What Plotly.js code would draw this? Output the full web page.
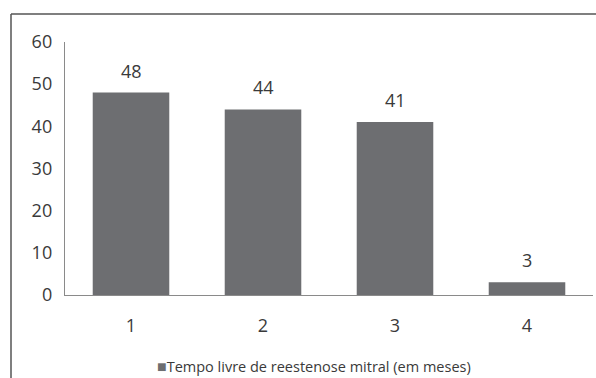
<!DOCTYPE html>
<html><head><meta charset="utf-8">
<script src="https://cdn.plot.ly/plotly-3.0.1.min.js"></script>
<style>body{margin:0;background:#fff}#c{width:596px;height:378px}</style>
</head><body><div id="c"></div>
<script>
const categories = ['1', '2', '3', '4'];
const values = [48, 44, 41, 3];
const seriesName = 'Tempo livre de reestenose mitral (em meses)';
const yTicks = [0, 10, 20, 30, 40, 50, 60];

const font = 'Open Sans, Lato, sans-serif';
const trace = {
  type: 'bar', x: categories, y: values, name: seriesName,
  marker: {color: '#6d6e71'},
  showlegend: false
};
const W = 596, H = 378, ml = 65, mr = 3, mt = 42, mb = 83;
const pw = W - ml - mr, ph = H - mt - mb;
const px = v => (v - ml) / pw, py = v => (H - mb - v) / ph;
const labels = categories.map((c, i) => ({
  x: i, y: values[i], xref: 'x', yref: 'y', text: String(values[i]),
  showarrow: false, yanchor: 'bottom', yshift: 8,
  font: {family: font, size: 18, color: '#3a3a3a'}
}));
const layout = {
  width: W, height: H,
  margin: {l: ml, r: mr, t: mt, b: mb},
  paper_bgcolor: '#fff', plot_bgcolor: '#fff',
  bargap: 0.42,
  font: {family: font, color: '#3a3a3a'},
  showlegend: false,
  xaxis: {type: 'category', range: [-0.5, categories.length - 0.5], showline: true, linecolor: '#8a8a8a', linewidth: 1.2,
    ticks: '', ticklabelstandoff: 14, tickfont: {size: 18, color: '#3a3a3a'}, showgrid: false, zeroline: false},
  yaxis: {range: [0, 60], tickvals: yTicks, showline: true, linecolor: '#8a8a8a', linewidth: 1.2,
    ticks: '', ticklabelstandoff: 8, tickfont: {size: 18, color: '#3a3a3a'}, showgrid: false, zeroline: false},
  annotations: labels.concat([
    {xref: 'paper', yref: 'paper', x: px(155), xanchor: 'left', y: py(366), yanchor: 'middle',
     showarrow: false, text: '<span style="color:#6d6e71;font-size:16px">■</span>' + seriesName,
     font: {family: font, size: 14.5, color: '#3a3a3a'}}
  ]),
  shapes: [
    {type: 'line', xref: 'paper', yref: 'paper', x0: px(11), x1: px(11), y0: py(14), y1: py(380),
     line: {color: '#555', width: 1.5}},
    {type: 'line', xref: 'paper', yref: 'paper', x0: px(11), x1: px(600), y0: py(14), y1: py(14),
     line: {color: '#555', width: 1.5}}
  ]
};
Plotly.newPlot('c', [trace], layout, {staticPlot: true, displayModeBar: false});
</script></body></html>
